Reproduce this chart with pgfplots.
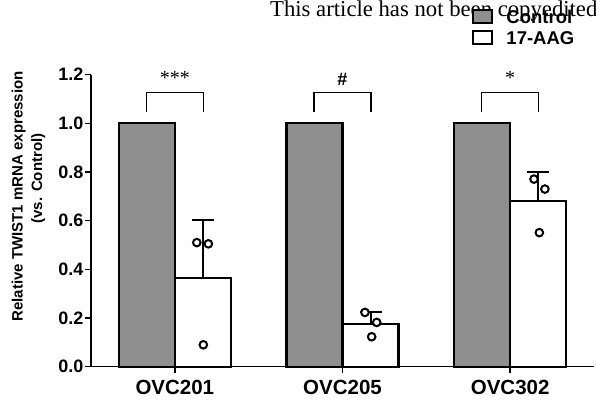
\documentclass[border=0pt]{standalone}
\usepackage{fontspec}
\setmainfont{Liberation Sans}
\newfontfamily\seriffont{Liberation Serif}
\usepackage{pgfplots}
\pgfplotsset{compat=1.18}
\definecolor{bargray}{RGB}{143,143,143}
\begin{document}
\begin{tikzpicture}[x=1pt,y=1pt]
\node[anchor=base west, font=\seriffont\fontsize{22.7}{22.7}\selectfont, inner sep=0pt] at (270,390) {This article has not been copyedited and proofread};
\begin{axis}[
  at={(91pt,40.3pt)}, anchor=south west,
  scale only axis, width=503pt, height=292pt,
  xmin=-0.5, xmax=2.5, ymin=0, ymax=1.2,
  axis x line*=bottom, axis y line*=left,
  axis line style={line width=1.4pt},
  xtick={0,1,2}, xticklabels={OVC201,OVC205,OVC302},
  ytick={0,0.2,0.4,0.6,0.8,1.0,1.2},
  /pgf/number format/fixed, /pgf/number format/fixed zerofill, /pgf/number format/precision=1,
  /pgf/number format/assume math mode=true,
  tick align=outside, major tick length=6pt,
  tick style={black, line width=1.4pt},
  yticklabel style={font=\bfseries\fontsize{18}{18}\selectfont, inner sep=1.5pt},
  xticklabel style={font=\bfseries\fontsize{20.5}{20.5}\selectfont, yshift=-4pt},
  clip=false,
  legend style={at={(axis description cs:0.758,1.228)}, anchor=north west,
    draw=none, fill=none, inner sep=0pt, row sep=2.5pt,
    font=\bfseries\fontsize{18.5}{18.5}\selectfont,
    /tikz/every odd column/.append style={column sep=11pt}},
  legend cell align=left,
]
\addlegendimage{legend image code/.code={\draw[fill=bargray, line width=2pt] (0pt,-5pt) rectangle (19pt,7.5pt);}}
\addlegendentry{Control}
\addlegendimage{legend image code/.code={\draw[fill=white, line width=2pt] (0pt,-5pt) rectangle (19pt,7.5pt);}}
\addlegendentry{17-AAG}
% control bars
\addplot[forget plot, ybar, bar width=0.334, bar shift=0pt, fill=bargray, draw=black, line width=2.2pt]
  coordinates {(-0.167,1) (0.833,1) (1.833,1)};
% 17-AAG bars with SD
\addplot[forget plot, ybar, bar width=0.334, bar shift=0pt, fill=white, draw=black, line width=2.2pt,
  error bars/.cd, y dir=plus, y explicit,
  error bar style={line width=2pt},
  error mark options={rotate=90, mark size=11pt, line width=2pt}]
  coordinates {(0.167,0.366) +- (0,0.237) (1.167,0.175) +- (0,0.051) (2.167,0.681) +- (0,0.120)};
% individual points
\addplot[forget plot, only marks, mark=*, mark size=3.8pt, mark options={draw=black, fill=white, line width=2pt}]
  coordinates {(0.131,0.510) (0.200,0.505) (0.170,0.090)
               (1.134,0.223) (1.204,0.182) (1.174,0.123)
               (2.142,0.771) (2.207,0.730) (2.174,0.551)};
% brackets
\addplot[forget plot, black, line width=1.5pt] coordinates {(-0.17,1.045) (-0.17,1.126) (0.17,1.126) (0.17,1.048)};
\addplot[forget plot, black, line width=1.5pt] coordinates {(0.83,1.045) (0.83,1.126) (1.17,1.126) (1.17,1.048)};
\addplot[forget plot, black, line width=1.5pt] coordinates {(1.83,1.045) (1.83,1.126) (2.17,1.126) (2.17,1.048)};
\node[anchor=base, font=\seriffont\fontsize{20}{20}\selectfont, inner sep=0pt] at (axis cs:0,1.16) {***};
\node[anchor=base, font=\bfseries\fontsize{18}{18}\selectfont, inner sep=0pt] at (axis cs:1,1.155) {\#};
\node[anchor=base, font=\seriffont\fontsize{20}{20}\selectfont, inner sep=0pt] at (axis cs:2,1.16) {*};
\node[rotate=90, anchor=base, inner sep=0pt, font=\bfseries\fontsize{15}{15}\selectfont] at (axis description cs:-0.136,0.583) {Relative TWIST1 mRNA expression};
\node[rotate=90, anchor=base, inner sep=0pt, font=\bfseries\fontsize{15}{15}\selectfont] at (axis description cs:-0.0974,0.6445) {(vs. Control)};
\end{axis}
\pgfresetboundingbox
\path[use as bounding box] (0,0) rectangle (596,407);
\end{tikzpicture}
\end{document}
